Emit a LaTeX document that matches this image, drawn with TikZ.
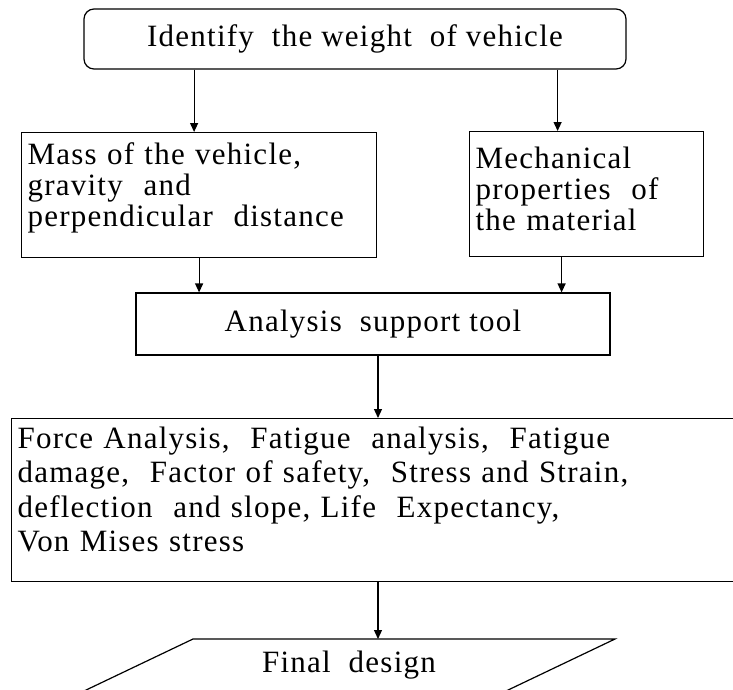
\documentclass[tikz,border=0pt]{standalone}
\usepackage{fontspec}
\setmainfont{Liberation Serif}[LetterSpace=4]
\usepackage{xcolor}
\usepackage{tikz}
\usetikzlibrary{arrows.meta}

\begin{document}
\begin{tikzpicture}[x=1pt,y=-1pt,
  box/.style={draw,line width=1.2pt,inner xsep=6pt,inner ysep=0pt,align=left,font=\fontsize{31}{31}\selectfont},
  link/.style={line width=1.2pt,-{Triangle[length=9pt,width=8pt]}}]
\useasboundingbox (0,0) rectangle (733,689);
\clip (0,0) rectangle (733,689);
\node[draw,line width=1.2pt,rounded corners=10pt,minimum width=542pt,minimum height=60pt,font=\fontsize{31}{31}\selectfont] (weight) at (355,39) {Identify\ \ the weight\ \ of vehicle};
\node[box,anchor=north west,text width=343pt,text height=32pt,text depth=93pt] (mass) at (21,132) {Mass of the vehicle,\\gravity\ \ and\\perpendicular\ \ distance};
\node[box,anchor=north west,text width=222pt,text height=37pt,text depth=88pt] (props) at (469,131) {Mechanical\\properties\ \ of\\the material};
\node[draw,line width=1.2pt,minimum width=474pt,minimum height=62pt,font=\fontsize{31}{31}\selectfont] (tool) at (373,324) {Analysis\ \ support tool};
\node[box,anchor=north west,text width=722pt,text height=30pt,text depth=133pt,font=\fontsize{31}{34.3}\selectfont] (results) at (11,418) {Force Analysis,\ \ Fatigue\ \ analysis,\ \ Fatigue\\damage,\ \ Factor of safety,\ \ Stress and Strain,\\deflection\ \ and slope, Life\ \ Expectancy,\\Von Mises stress};
\node[font=\fontsize{31}{31}\selectfont] (final) at (349,665) {Final\ \ design};
\coordinate (finaltop) at (378,639);
\draw[line width=1.2pt] (193,639) -- (615,639) -- (506,691) -- (84,691) -- cycle;
\draw[link] ([xshift=-5pt]mass.north |- weight.south) -- ([xshift=-5pt]mass.north);
\draw[link] ([xshift=-29pt]props.north |- weight.south) -- ([xshift=-29pt]props.north);
\draw[link] (mass.south) -- (mass.south |- tool.north);
\draw[link] ([xshift=-25pt]props.south) -- ([xshift=-25pt]props.south |- tool.north);
\draw[link] ([xshift=5pt]tool.south) -- ([xshift=5pt]tool.south |- results.north);
\draw[link] ([xshift=5pt]tool.south |- results.south) -- (finaltop);
\end{tikzpicture}
\end{document}
